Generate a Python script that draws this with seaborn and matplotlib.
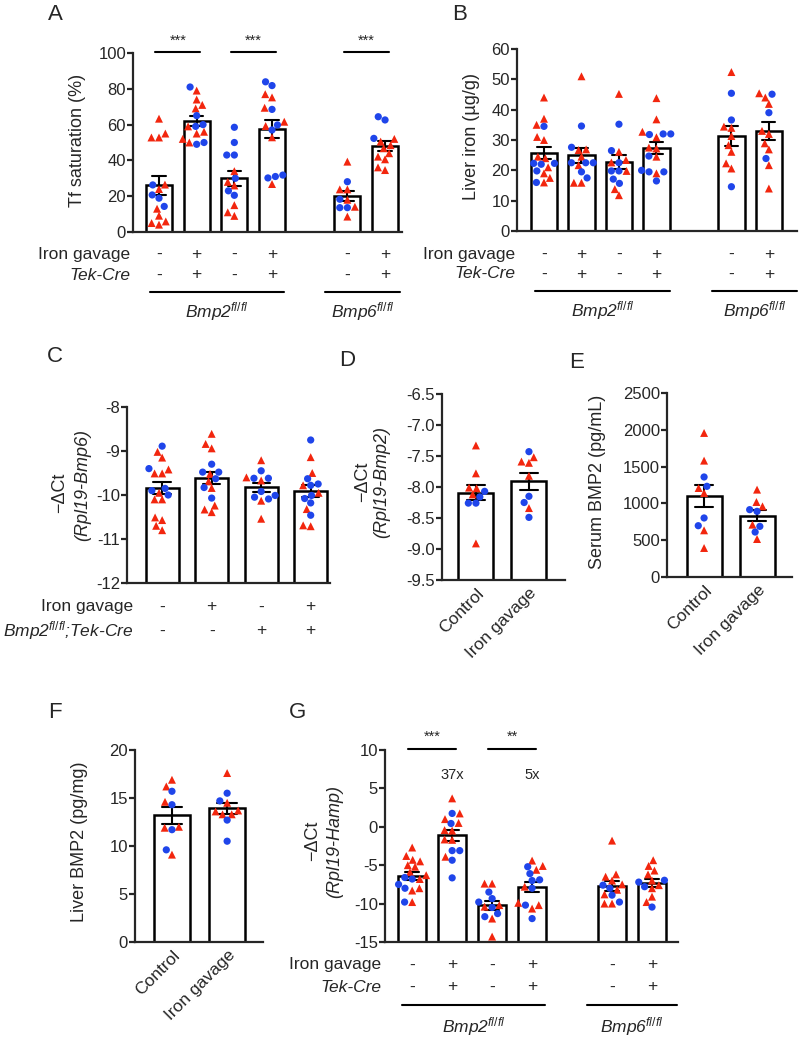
import numpy as np
import pandas as pd
import matplotlib.pyplot as plt
import seaborn as sns
from matplotlib.markers import MarkerStyle
from matplotlib.transforms import blended_transform_factory, Affine2D
from matplotlib.lines import Line2D
from matplotlib.ticker import FormatStrFormatter
import warnings
warnings.filterwarnings('ignore')

# ── data ──────────────────────────────────────────────────────────────────────
# A, B, G: four Bmp2fl/fl groups then two Bmp6fl/fl groups
grp6 = ['Bmp2 1', 'Bmp2 2', 'Bmp2 3', 'Bmp2 4', 'Bmp6 1', 'Bmp6 2']
order6 = grp6[:4] + ['gap'] + grp6[4:]
iron_row = ['-', '+', '-', '+', '-', '+']
tek_row = ['-', '+', '-', '+', '-', '+']

# C: four groups
grp4 = ['C1', 'C2', 'C3', 'C4']
c_iron_row = ['-', '+', '-', '+']
c_tek_row = ['-', '-', '+', '+']

# D, E, F
grp2 = ['Control', 'Iron gavage']

# red triangles / blue circles for every group
tf_tri = [[63.3, 55.0, 52.8, 52.8, 26.5, 24.0, 13.0, 9.1, 5.9, 5.0, 4.1],
          [79, 74, 71, 69, 59, 56, 55, 52, 50],
          [34, 28, 26, 15, 11, 9],
          [77, 75.2, 69.4, 61.6, 59.2, 52.9, 26.8],
          [39.3, 23.8, 23.8, 18, 14.1, 8.6],
          [52, 50.5, 48.5, 46.8, 44, 42.1, 40.6, 36.1, 34.6]]
tf_dot = [[26.3, 20.7, 18.9, 14.3],
          [81, 65, 60, 59, 50, 49],
          [58.5, 50, 43, 43, 30, 23, 20.5],
          [83.9, 81.8, 68.5, 59.8, 57, 31.8, 31, 30.2],
          [28.1, 18.3, 13.6, 13.6],
          [64.4, 62.6, 52.3]]

fe_tri = [[44, 37, 35, 31, 30, 24, 24.5, 21, 19, 17.5, 16],
          [51, 26.9, 26.7, 24.5, 21.7, 15.9, 15.9],
          [45.2, 26.1, 23.4, 22.6, 19.8, 13.8, 11.8],
          [43.8, 36.8, 32.7, 30.9, 27.5, 27.2, 24.5, 19],
          [52.4, 34.4, 34, 31.3, 28.3, 26.1, 22.3, 20.6],
          [45.4, 44, 41.9, 33, 32, 28.9, 26.9, 21.7, 14]]
fe_dot = [[34.5, 22, 22.3, 22.3, 19.8, 16],
          [34.6, 27.6, 22.5, 22.5, 22.5, 19.5, 17.5],
          [35.2, 26.5, 22.5, 19.8, 19.8, 17.1, 15.7],
          [32, 31.8, 32, 24.7, 20, 19.5, 19.5, 16.5],
          [45.4, 36.6, 14.6],
          [45.1, 39, 23.9]]

bmp6_tri = [[-9.02, -9.15, -9.42, -9.51, -9.51, -9.95, -10.1, -10.1, -10.51, -10.57, -10.7, -10.8],
            [-8.61, -8.84, -8.94, -9.52, -9.69, -9.84, -10.24, -10.33, -10.39],
            [-9.21, -9.6, -9.67, -10.13, -10.54],
            [-9.14, -9.5, -9.78, -9.95, -10.32, -10.69, -10.71]]
bmp6_dot = [[-8.89, -9.4, -9.85, -9.9, -10.0],
            [-9.30, -9.48, -9.48, -9.63, -9.83, -10.07],
            [-9.45, -9.62, -9.62, -9.92, -10.01, -10.05, -10.09],
            [-8.75, -9.63, -9.75, -9.78, -10.01, -10.08, -10.18, -10.46]]

bmp2_tri = [[-7.33, -7.78, -8.01, -8.02, -8.12, -8.91],
            [-7.52, -7.59, -7.61, -7.82, -8.34]]
bmp2_dot = [[-8.07, -8.16, -8.26, -8.26],
            [-7.43, -8.15, -8.25, -8.49]]

serum_tri = [[1957, 1581, 1209, 1141, 634, 394],
             [1187, 1019, 960, 711, 516]]
serum_dot = [[1359, 1232, 802, 697],
             [915, 892, 688, 611]]

liver_tri = [[16.9, 16.2, 14.6, 12.0, 11.9, 9.1],
             [17.6, 14.5, 13.7, 13.6, 13.3, 13.3]]
liver_dot = [[15.7, 14.3, 11.7, 9.6],
             [15.5, 14.7, 12.7, 10.5]]

hamp_tri = [[-2.7, -3.8, -4.3, -4.5, -5.0, -5.2, -5.9, -6.3, -6.8, -8.0, -8.3, -9.8],
            [3.7, 1.74, 1.0, 0.5, -0.43, -0.5, -1.65, -1.7, -3.9],
            [-7.4, -7.4, -10.2, -10.4, -11.95, -14.3],
            [-4.4, -5.1, -5.6, -7.8, -9.9, -10.2, -10.65],
            [-1.8, -6.2, -6.5, -7.0, -7.5, -8.2, -8.8, -10.0, -10.0],
            [-4.35, -5.1, -5.7, -6.2, -7.0, -7.6, -8.0, -9.1, -9.8]]
hamp_dot = [[-6.6, -6.8, -7.5, -8.0, -9.8],
            [1.74, 0.43, -3.1, -3.1, -4.35, -6.65],
            [-8.5, -9.35, -9.8, -10.5, -11.3, -11.7],
            [-5.2, -6.1, -6.9, -7.0, -8.0, -10.2, -11.95],
            [-7.6, -8.0, -8.9, -9.8],
            [-6.96, -7.2, -7.8, -10.45]]
hamp_fold = ['37x', '5x']

# ── style ─────────────────────────────────────────────────────────────────────
sns.set_style('ticks')
plt.rcParams['font.family'] = ['Liberation Sans', 'DejaVu Sans']
plt.rcParams['mathtext.fontset'] = 'custom'
plt.rcParams['mathtext.rm'] = 'Liberation Sans'
plt.rcParams['mathtext.it'] = 'Liberation Sans:italic'
plt.rcParams['axes.unicode_minus'] = False

RED = '#f2260e'
BLUE = '#1f45ea'
pal = {'tri': RED, 'dot': BLUE}

tri_m = MarkerStyle('^')
tri_path = tri_m.get_path().transformed(tri_m.get_transform() + Affine2D().scale(1.1))
dot_m = MarkerStyle('o')
dot_path = dot_m.get_path().transformed(dot_m.get_transform())

W, H = 800, 1040
fig = plt.figure(figsize=(W / 100, H / 100), dpi=100)


def fx(x):
    return x / W


def fy(y):
    return 1 - y / H


def long_df(groups, tri, dot):
    rows = []
    for g, t, d in zip(groups, tri, dot):
        rows += [(g, v, 'tri') for v in t] + [(g, v, 'dot') for v in d]
    return pd.DataFrame(rows, columns=['group', 'value', 'kind'])


def panel(box, groups, order, tri, dot, ylim, yticks, width, xlim):
    l, t, r, b = box
    ax = fig.add_axes([fx(l), fy(b), (r - l) / W, (b - t) / H])
    df = long_df(groups, tri, dot)
    sns.barplot(data=df, x='group', y='value', order=order, errorbar='se',
                capsize=0.35, width=width, color='white', saturation=1,
                edgecolor='black', linewidth=1.8,
                err_kws={'color': 'black', 'linewidth': 1.5}, ax=ax)
    # bars start at the bottom of the axis, as in Prism
    for bar in ax.patches:
        top = bar.get_y() + bar.get_height()
        if np.isfinite(top):
            bar.set_y(ylim[0])
            bar.set_height(top - ylim[0])
    sns.swarmplot(data=df, x='group', y='value', order=order, hue='kind',
                  palette=pal, size=5.2, legend=False, ax=ax)
    for coll in ax.collections:
        fc = coll.get_facecolors()
        coll.set_paths([tri_path if c[0] > 0.5 else dot_path for c in fc])
    ax.set_xlim(*xlim)
    ax.set_ylim(*ylim)
    ax.set_yticks(yticks)
    ax.set_xticks([])
    ax.set_xlabel('')
    ax.set_ylabel('')
    for s in ['top', 'right']:
        ax.spines[s].set_visible(False)
    for s in ['left', 'bottom']:
        ax.spines[s].set_linewidth(1.6)
    ax.tick_params(axis='y', length=4, width=1.6, labelsize=12, pad=1)
    ax.tick_params(axis='x', length=0)
    return ax


def rows_below(ax, order, groups, rows, row_names, ys, right_x):
    tr = blended_transform_factory(ax.transData, fig.transFigure)
    pos = [order.index(g) for g in groups]
    for signs, name, y in zip(rows, row_names, ys):
        fig.text(fx(right_x), fy(y), name, ha='right', va='center', fontsize=12.5,
                 style='normal' if name == 'Iron gavage' else 'italic')
        for p, s in zip(pos, signs):
            ax.text(p, fy(y), s, transform=tr, ha='center', va='center', fontsize=12.5)


def group_lines(spans, y_line, y_text, names):
    for (x0, x1), name in zip(spans, names):
        fig.add_artist(Line2D([fx(x0), fx(x1)], [fy(y_line)] * 2,
                              transform=fig.transFigure, color='black', lw=1.5))
        fig.text(fx((x0 + x1) / 2), fy(y_text), name, ha='center', va='center',
                 fontsize=12.5, style='italic')


def sig_bars(ax, order, groups, pairs, stars, y_line, y_text):
    tr = blended_transform_factory(ax.transData, ax.transAxes)
    for (i, j), s in zip(pairs, stars):
        x0, x1 = order.index(groups[i]), order.index(groups[j])
        ax.plot([x0 - 0.1, x1 + 0.1], [y_line] * 2, color='black', lw=1.5,
                transform=tr, clip_on=False)
        ax.text((x0 + x1) / 2, y_text, s, transform=tr, ha='center', va='center',
                fontsize=10.5)


def ylab(x, y, text, italic=False):
    fig.text(fx(x), fy(y), text, rotation=90, ha='center', va='center',
             fontsize=13, style='italic' if italic else 'normal')


def letter(x, y, s):
    fig.text(fx(x), fy(y), s, ha='center', va='center', fontsize=16)


bmp2_lab = 'Bmp2$^{fl/fl}$'
bmp6_lab = 'Bmp6$^{fl/fl}$'

# ── A: Tf saturation ──────────────────────────────────────────────────────────
axA = panel((133, 53, 402, 232), grp6, order6, tf_tri, tf_dot, (0, 100),
            range(0, 101, 20), 0.69, (-0.69, 6.45))
ylab(78, 140, 'Tf saturation (%)')
rows_below(axA, order6, grp6, [iron_row, tek_row], ['Iron gavage', 'Tek-Cre'],
           [254, 275], 130)
group_lines([(150, 284), (325, 400)], 292, 312, [bmp2_lab, bmp6_lab])
sig_bars(axA, order6, grp6, [(0, 1), (2, 3), (4, 5)], ['***'] * 3, 1.006, 1.07)
letter(55, 14, 'A')

# ── B: liver iron ─────────────────────────────────────────────────────────────
axB = panel((517, 49, 797, 231), grp6, order6, fe_tri, fe_dot, (0, 60),
            range(0, 61, 10), 0.71, (-0.72, 6.75))
ylab(472, 136, 'Liver iron (µg/g)')
rows_below(axB, order6, grp6, [iron_row, tek_row], ['Iron gavage', 'Tek-Cre'],
           [254, 274], 515)
group_lines([(535, 670), (712, 797)], 291, 311, [bmp2_lab, bmp6_lab])
letter(460, 14, 'B')

# ── C: Bmp6 expression ────────────────────────────────────────────────────────
axC = panel((127, 407, 330, 583), grp4, grp4, bmp6_tri, bmp6_dot, (-12, -8),
            range(-12, -7), 0.67, (-0.71, 3.39))
ylab(60, 493, '−ΔCt')
ylab(83, 485, '(Rpl19-Bmp6)', italic=True)
rows_below(axC, grp4, grp4, [c_iron_row, c_tek_row],
           ['Iron gavage', 'Bmp2$^{fl/fl}$;Tek-Cre'], [607, 631], 133)
letter(55, 357, 'C')

# ── D, E, F: two-group panels ─────────────────────────────────────────────────
def two_group(box, tri, dot, ylim, yticks, xlim, fmt=None):
    ax = panel(box, grp2, grp2, tri, dot, ylim, yticks, 0.66, xlim)
    ax.set_xticks(range(len(grp2)))
    ax.set_xticklabels(grp2, rotation=45, ha='right', va='top',
                       rotation_mode='anchor', fontsize=12.5)
    ax.tick_params(axis='x', pad=4)
    if fmt:
        ax.yaxis.set_major_formatter(FormatStrFormatter(fmt))
    return ax


axD = two_group((442, 394, 565, 580), bmp2_tri, bmp2_dot, (-9.5, -6.5),
                np.arange(-9.5, -6.4, 0.5), (-0.64, 1.68), '%.1f')
ylab(363, 482, '−ΔCt')
ylab(382, 482, '(Rpl19-Bmp2)', italic=True)
letter(347, 360, 'D')

axE = two_group((667, 393, 792, 577), serum_tri, serum_dot, (0, 2500),
                range(0, 2501, 500), (-0.7, 1.66))
ylab(597, 482, 'Serum BMP2 (pg/mL)')
letter(577, 362, 'E')

axF = two_group((135, 750, 263, 942), liver_tri, liver_dot, (0, 20),
                range(0, 21, 5), (-0.67, 1.65))
ylab(80, 842, 'Liver BMP2 (pg/mg)')
letter(55, 712, 'F')

# ── G: Hamp expression ────────────────────────────────────────────────────────
axG = panel((385, 750, 678, 942), grp6, order6, hamp_tri, hamp_dot, (-15, 10),
            range(-15, 11, 5), 0.7, (-0.68, 6.65))
ylab(313, 841, '−ΔCt')
ylab(335, 841, '(Rpl19-Hamp)', italic=True)
rows_below(axG, order6, grp6, [iron_row, tek_row], ['Iron gavage', 'Tek-Cre'],
           [965, 987], 381)
group_lines([(402, 545), (587, 677)], 1005, 1027, [bmp2_lab, bmp6_lab])
sig_bars(axG, order6, grp6, [(0, 1), (2, 3)], ['***', '**'], 1.005, 1.068)
trG = blended_transform_factory(axG.transData, axG.transAxes)
for gi, txt in zip([1, 3], hamp_fold):
    axG.text(order6.index(grp6[gi]), 0.87, txt, transform=trG, ha='center',
             va='center', fontsize=10.5)
letter(298, 713, 'G')

fig.savefig('out.png', dpi=100)
